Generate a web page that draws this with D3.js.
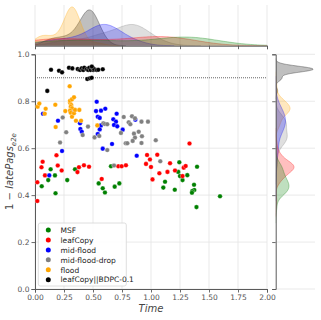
<!DOCTYPE html>
<html>
<head>
<meta charset="utf-8">
<script src="https://cdn.jsdelivr.net/npm/d3@7"></script>
<style>
  body { margin: 0; background: #fff; }
  text { font-family: "DejaVu Sans", sans-serif; }
</style>
</head>
<body>
<svg id="chart" width="321" height="320"></svg>
<script>
// categories / colours
var groups = ["MSF", "leafCopy", "mid-flood", "mid-flood-drop", "flood", "leafCopy||BDPC-0.1"];
var groupColors = ["green", "red", "blue", "gray", "orange", "black"];

// values (x = Time, y = 1 - latePags_e2e)
var msfX = [0.135,0.172,0.114,0.058,0.177,0.278,0.345,0.549,0.584,0.603,0.655,0.727,0.687,1.121,1.106,1.205,1.244,1.235,1.250,1.272,1.313,1.397,1.371,1.373,1.356,1.353,1.392,1.595];
var msfY = [0.510,0.484,0.464,0.438,0.408,0.464,0.510,0.450,0.429,0.411,0.523,0.450,0.436,0.457,0.432,0.423,0.540,0.499,0.481,0.464,0.485,0.521,0.444,0.422,0.417,0.410,0.349,0.395];

var leafX = [0.185,0.066,0.056,0.196,0.086,0.230,0.020,0.020,0.379,0.422,0.466,0.366,0.575,0.718,0.747,0.784,0.966,0.991,0.957,1.000,1.054,1.072,1.013,1.164,1.142,1.207,1.272,1.282,1.299,1.332];
var leafY = [0.570,0.542,0.519,0.526,0.484,0.505,0.455,0.375,0.519,0.527,0.521,0.498,0.469,0.523,0.523,0.527,0.571,0.552,0.533,0.520,0.572,0.493,0.467,0.536,0.499,0.505,0.481,0.517,0.524,0.620];

var midX = [0.532,0.526,0.569,0.606,0.069,0.316,0.198,0.388,0.391,0.403,0.541,0.558,0.569,0.558,0.541,0.233,0.584,0.664,0.704,0.675,0.698,0.681,0.709,0.756,0.865,0.877,0.123];
var midY = [0.798,0.758,0.760,0.768,0.747,0.753,0.717,0.706,0.682,0.670,0.734,0.729,0.697,0.680,0.660,0.588,0.598,0.618,0.747,0.723,0.713,0.699,0.693,0.679,0.721,0.568,0.484];

var dropX = [0.239,0.269,0.216,0.457,0.411,0.513,0.554,0.589,0.603,0.623,0.623,0.681,0.765,0.808,0.822,0.836,0.862,0.918,0.974,0.741,0.853,0.894,0.922,0.862,0.842,0.782,0.796,0.918,1.041,1.080];
var dropY = [0.731,0.668,0.624,0.692,0.656,0.646,0.652,0.706,0.703,0.702,0.592,0.526,0.733,0.710,0.702,0.736,0.727,0.713,0.713,0.665,0.662,0.670,0.651,0.645,0.631,0.621,0.621,0.622,0.634,0.544];

var floodX = [0.023,0.037,0.092,0.084,0.175,0.178,0.261,0.299,0.302,0.302,0.319,0.336,0.313,0.308,0.319,0.302,0.308,0.319,0.336,0.345,0.382,0.353,0.397,0.537];
var floodY = [0.777,0.790,0.768,0.747,0.785,0.690,0.758,0.864,0.794,0.802,0.808,0.817,0.784,0.777,0.770,0.760,0.751,0.734,0.749,0.763,0.763,0.717,0.717,0.697];

var bdpcX = [0.138,0.207,0.233,0.293,0.322,0.368,0.388,0.403,0.416,0.425,0.446,0.459,0.468,0.480,0.497,0.503,0.509,0.532,0.546,0.584,0.451,0.474,0.489,0.106,0.490];
var bdpcY = [0.934,0.930,0.923,0.943,0.940,0.937,0.933,0.940,0.933,0.943,0.937,0.933,0.943,0.933,0.943,0.933,0.937,0.933,0.934,0.936,0.895,0.898,0.900,0.844,0.948];

var xTicks = [0, 0.25, 0.5, 0.75, 1, 1.25, 1.5, 1.75, 2];
var yTicks = [0, 0.2, 0.4, 0.6, 0.8, 1.0];
var refLine = 0.9;

var seriesX = [msfX, leafX, midX, dropX, floodX, bdpcX];
var seriesY = [msfY, leafY, midY, dropY, floodY, bdpcY];

///////////////////////////////////////////////////////////////////////////////
// layout

var svg = d3.select("#chart");
var gridColor = "#e3e3e3", spineColor = "#5a5a5a", labelColor = "#555";

var x = d3.scaleLinear().domain([0, 2]).range([35, 267]);
var y = d3.scaleLinear().domain([0, 1]).range([289, 54.3]);

var total = d3.sum(seriesX, function (s) { return s.length; });

// gaussian kde, scott bandwidth, weighted by group share (common norm)
var kde = function (vals) {
  var n = vals.length;
  var bw = d3.deviation(vals) * Math.pow(n, -0.2);
  var lo = d3.min(vals) - 3 * bw, hi = d3.max(vals) + 3 * bw;
  var pts = [];
  for (var i = 0; i <= 200; i++) {
    var v = lo + (hi - lo) * i / 200;
    var s = 0;
    vals.forEach(function (d) {
      var z = (v - d) / bw;
      s += Math.exp(-0.5 * z * z);
    });
    pts.push([v, s / (n * bw * Math.sqrt(2 * Math.PI)) * n / total]);
  }
  return pts;
};

var topCurves = seriesX.map(kde);
var sideCurves = seriesY.map(kde);
var topMax = d3.max(topCurves, function (c) { return d3.max(c, function (p) { return p[1]; }); });
var sideMax = d3.max(sideCurves, function (c) { return d3.max(c, function (p) { return p[1]; }); });

var topY = d3.scaleLinear().domain([0, topMax * 1.05]).range([45.7, 5]);
var sideX = d3.scaleLinear().domain([0, sideMax * 1.05]).range([275.7, 315]);

var defs = svg.append("defs");
defs.append("clipPath").attr("id", "clipTop").append("rect")
  .attr("x", 35).attr("y", 0).attr("width", 232).attr("height", 46);
defs.append("clipPath").attr("id", "clipSide").append("rect")
  .attr("x", 275.7).attr("y", 54.3).attr("width", 45).attr("height", 234.7);

///////////////////////////////////////////////////////////////////////////////
// grids

svg.append("g").selectAll("line").data(xTicks).join("line")
  .attr("x1", x).attr("x2", x).attr("y1", 54.3).attr("y2", 289)
  .attr("stroke", gridColor).attr("stroke-width", 0.8);
svg.append("g").selectAll("line").data(yTicks).join("line")
  .attr("x1", 35).attr("x2", 267).attr("y1", y).attr("y2", y)
  .attr("stroke", gridColor).attr("stroke-width", 0.8);
svg.append("g").selectAll("line").data(xTicks).join("line")
  .attr("x1", x).attr("x2", x).attr("y1", 5).attr("y2", 45.7)
  .attr("stroke", gridColor).attr("stroke-width", 0.8);
svg.append("g").selectAll("line").data(yTicks).join("line")
  .attr("x1", 275.7).attr("x2", 315).attr("y1", y).attr("y2", y)
  .attr("stroke", gridColor).attr("stroke-width", 0.8);

///////////////////////////////////////////////////////////////////////////////
// marginal densities

var topArea = d3.area().x(function (p) { return x(p[0]); })
  .y0(topY(0)).y1(function (p) { return topY(p[1]); });
var topLine = d3.line().x(function (p) { return x(p[0]); })
  .y(function (p) { return topY(p[1]); });
var sideArea = d3.area().y(function (p) { return y(p[0]); })
  .x0(sideX(0)).x1(function (p) { return sideX(p[1]); });
var sideLine = d3.line().y(function (p) { return y(p[0]); })
  .x(function (p) { return sideX(p[1]); });

var order = d3.range(groups.length).reverse();
var gt = svg.append("g").attr("clip-path", "url(#clipTop)");
var gs = svg.append("g").attr("clip-path", "url(#clipSide)");
order.forEach(function (i) {
  gt.append("path").attr("d", topArea(topCurves[i]))
    .attr("fill", groupColors[i]).attr("fill-opacity", 0.25);
  gt.append("path").attr("d", topLine(topCurves[i]))
    .attr("fill", "none").attr("stroke", groupColors[i]).attr("stroke-opacity", 0.3).attr("stroke-width", 1);
  gs.append("path").attr("d", sideArea(sideCurves[i]))
    .attr("fill", groupColors[i]).attr("fill-opacity", 0.25);
  gs.append("path").attr("d", sideLine(sideCurves[i]))
    .attr("fill", "none").attr("stroke", groupColors[i]).attr("stroke-opacity", 0.3).attr("stroke-width", 1);
});

///////////////////////////////////////////////////////////////////////////////
// axes

var xAxis = svg.append("g").attr("transform", "translate(0,289)")
  .call(d3.axisBottom(x).tickValues(xTicks).tickFormat(d3.format(".2f")).tickSize(3.5).tickPadding(2));
var yAxis = svg.append("g").attr("transform", "translate(35,0)")
  .call(d3.axisLeft(y).tickValues(yTicks).tickFormat(d3.format(".1f")).tickSize(3.5).tickPadding(2));
var topAxis = svg.append("g").attr("transform", "translate(0,45.7)")
  .call(d3.axisBottom(x).tickValues(xTicks).tickFormat("").tickSize(3.5));
var sideAxis = svg.append("g").attr("transform", "translate(275.7,0)")
  .call(d3.axisLeft(y).tickValues(yTicks).tickFormat("").tickSize(3.5));

[xAxis, yAxis, topAxis, sideAxis].forEach(function (a) {
  a.select(".domain").attr("stroke", spineColor).attr("stroke-width", 1);
  a.selectAll(".tick line").attr("stroke", spineColor).attr("stroke-width", 0.9);
  a.selectAll(".tick text").attr("fill", labelColor)
    .style("font-family", "DejaVu Sans").style("font-size", "7.5px");
});

///////////////////////////////////////////////////////////////////////////////
// reference line and points

svg.append("line")
  .attr("x1", x(0)).attr("x2", x(2)).attr("y1", y(refLine)).attr("y2", y(refLine))
  .attr("stroke", "#555").attr("stroke-width", 0.9).attr("stroke-dasharray", "1,1");

var points = [];
seriesX.forEach(function (s, i) {
  s.forEach(function (v, j) { points.push({ g: i, x: v, y: seriesY[i][j] }); });
});
svg.append("g").selectAll("circle").data(points).join("circle")
  .attr("cx", function (d) { return x(d.x); })
  .attr("cy", function (d) { return y(d.y); })
  .attr("r", 2.3)
  .attr("fill", function (d) { return groupColors[d.g]; })
  .attr("stroke", "#fff").attr("stroke-width", 0.3);

///////////////////////////////////////////////////////////////////////////////
// legend

var lg = svg.append("g");
lg.append("rect").attr("x", 38.3).attr("y", 223).attr("width", 88).attr("height", 63)
  .attr("rx", 2).attr("fill", "#fff").attr("fill-opacity", 0.85)
  .attr("stroke", "#d6d6d6").attr("stroke-width", 0.8);
groups.forEach(function (name, i) {
  var cy = 230 + i * 9.95;
  lg.append("circle").attr("cx", 48.3).attr("cy", cy).attr("r", 2.5).attr("fill", groupColors[i]);
  lg.append("text").attr("x", 60.5).attr("y", cy + 2.7)
    .attr("fill", "#222").style("font-size", "7.5px").text(name);
});

///////////////////////////////////////////////////////////////////////////////
// axis titles

svg.append("text").attr("x", 151).attr("y", 312).attr("text-anchor", "middle")
  .attr("fill", "#444").style("font-size", "10px").style("font-style", "italic").text("Time");

var yl = svg.append("text").attr("transform", "translate(13,171.5) rotate(-90)")
  .attr("text-anchor", "middle").attr("fill", "#444").style("font-size", "10px");
yl.append("tspan").text("1 \u2212 ");
yl.append("tspan").style("font-style", "italic").text("latePags");
yl.append("tspan").style("font-style", "italic").style("font-size", "7px").attr("dy", 2.5).text("e2e");
</script>
</body>
</html>
